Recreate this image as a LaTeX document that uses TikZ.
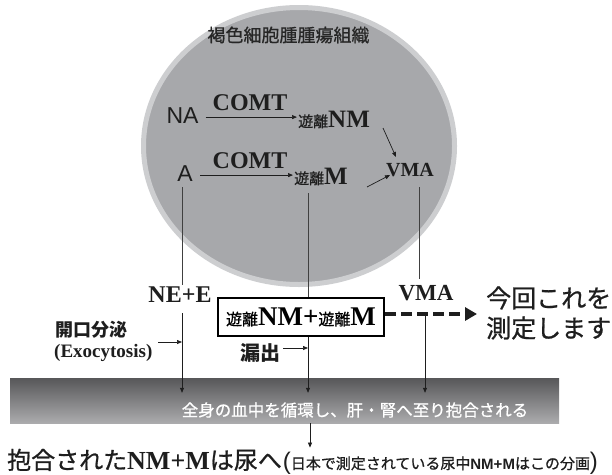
\documentclass[tikz,border=0pt]{standalone}
\usepackage{fontspec}
\usetikzlibrary{arrows.meta}
\newfontfamily\jp{Noto Sans CJK JP}
\newfontfamily\jpm{Noto Sans CJK JP}[FakeBold=0.8]
\newfontfamily\ls{Liberation Sans}
\newfontfamily\tr{Liberation Serif}
\newcommand\myfs[1]{\fontsize{#1pt}{#1pt}\selectfont}
\definecolor{tumor}{HTML}{A7A8AB}
\definecolor{ring}{HTML}{CDCED0}
\definecolor{ink}{HTML}{1E1E1E}
\definecolor{barTop}{HTML}{575759}
\definecolor{barBot}{HTML}{ABABAD}
\begin{document}
\begin{tikzpicture}[x=1pt,y=-1pt,
  txt/.style={inner sep=1pt, text=ink},
  arr/.style={draw=ink, line width=0.7pt, -{Triangle[length=5pt,width=4pt]}},
  vline/.style={draw=ink!85, line width=0.7pt},
  serb/.style={font=\tr\bfseries\myfs{#1}},
]
\useasboundingbox (0,0) rectangle (612,474);
\fill[white] (0,0) rectangle (612,474);
\clip (0,0) rectangle (612,474);
% tumour tissue
\draw[ring, line width=5pt, fill=tumor] (299,146) ellipse [x radius=155.5pt, y radius=138.5pt];
\node[txt, text=black!85, font=\jpm\myfs{18}] (title) at (288.5,35) {褐色細胞腫腫瘍組織};
% metabolites
\node[txt, font=\ls\myfs{23}, anchor=base] (NA) at (182.5,123) {NA};
\node[txt, font=\ls\myfs{23}, anchor=base] (A) at (185,181) {A};
\node[txt, serb=24, anchor=base] (comt1) at (250,110) {COMT};
\node[txt, serb=24, anchor=base] (comt2) at (250,168) {COMT};
\node[txt, anchor=base west] (NM) at (297,127) {{\jpm\myfs{15}遊離}{\tr\bfseries\myfs{25}NM}};
\node[txt, anchor=base west] (M) at (293,184) {{\jpm\myfs{15}遊離}{\tr\bfseries\myfs{25}M}};
\node[txt, serb=20, anchor=base] (VMA1) at (410,176) {VMA};
\draw[arr] ([xshift=6pt,yshift=-2pt]NA.east) -- ([yshift=-2pt]NA.east -| NM.west);
\draw[arr] ([xshift=6.5pt,yshift=-2pt]A.east) -- ([yshift=-2pt]A.east -| M.west);
\coordinate (nmTail) at (383,128);
\coordinate (nmHead) at (396,157);
\draw[arr] (nmTail) -- (nmHead);
\coordinate (mTail) at (367,187);
\coordinate (mHead) at (390,175);
\draw[arr] (mTail) -- (mHead);
% lower labels
\node[txt, serb=24, anchor=base] (NEE) at (180,302) {NE+E};
\node[txt, serb=23, anchor=base] (VMA2) at (426,300) {VMA};
\node[draw=black, line width=2pt, fill=white, minimum width=166pt, minimum height=38pt, inner sep=0pt] (box) at (301,317)
  {{\jpm\myfs{16}遊離}{\tr\bfseries\myfs{27}NM+}{\jpm\myfs{16}遊離}{\tr\bfseries\myfs{27}M}};
\node[txt, font=\jpm\fontsize{25pt}{30pt}\selectfont, align=left, anchor=west] (msg) at (485,313) {今回これを\\測定します};
\node[txt, font=\jp\bfseries\myfs{18}, anchor=west] (kai) at (54,330) {開口分泌};
\node[txt, anchor=west] (exo) at (53,353) {{\tr\bfseries\myfs{19}(Exocytosis)}};
\node[txt, font=\jp\bfseries\myfs{20}, anchor=west] (ro) at (239,353) {漏出};
% blood bar
\node[minimum width=549pt, minimum height=45pt, inner sep=0pt, top color=barTop, bottom color=barBot] (bar) at (284.5,400.5) {};
\node[txt, text=white, font=\jpm\myfs{16.5}] (bartxt) at (355,410) {全身の血中を循環し、肝・腎へ至り抱合される};
\node[txt, anchor=base west] (bottom) at (6,469)
  {{\jpm\myfs{24}抱合された}{\tr\bfseries\myfs{26}NM+M}{\jpm\myfs{24}は尿へ}{\ls\myfs{24}\kern1pt(}{\jpm\myfs{15}日本で測定されている尿中}{\ls\bfseries\myfs{15}NM+M}{\jpm\myfs{15}はこの分画}{\ls\myfs{24})}};
% vertical connectors
\coordinate (aTop) at (182,187);
\coordinate (mTop) at (308,193);
\coordinate (vTop) at (419,187);
\coordinate (vj) at (425,313);
\draw[vline] (aTop) -- (aTop |- NEE.north);
\draw[vline, arr] ([yshift=-10pt]NEE.south -| aTop) -- ([yshift=-15pt]aTop |- bar.north);
\draw[vline] (mTop) -- (mTop |- box.north);
\draw[vline, arr] (mTop |- box.south) -- ([yshift=-15pt]mTop |- bar.north);
\draw[vline, shorten >=5pt] (vTop) -- (vTop |- VMA2.north);
\draw[vline, arr] (vj) -- ([yshift=-15pt]vj |- bar.north);
\draw[vline, arr] ([xshift=2pt]mTop |- bar.south) -- ([xshift=2pt]mTop |- bottom.north);
\coordinate (exoTail) at (158,342);
\draw[arr] (exoTail) -- (exoTail -| aTop);
\coordinate (roTail) at (283,348);
\draw[arr] (roTail) -- (roTail -| mTop);
% dashed arrow
\draw[draw=ink, line width=4pt, dash pattern=on 11pt off 5pt, shorten >=8pt, -{Triangle[length=12pt,width=13pt]}]
  ([yshift=3pt]box.east) -- ([yshift=3pt]box.east -| msg.west);
\end{tikzpicture}
\end{document}
